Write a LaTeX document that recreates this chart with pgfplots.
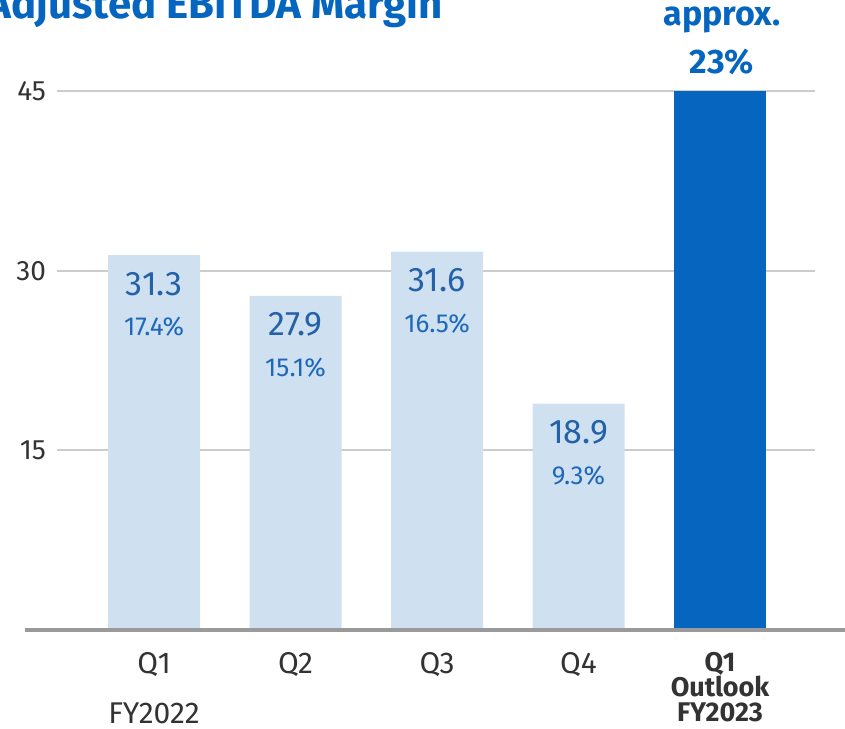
\documentclass[border=0pt]{standalone}
\usepackage{pgfplots}
\pgfplotsset{compat=1.18}
\usepackage{fontspec}
\setmainfont{Fira Sans}
\definecolor{lightbar}{HTML}{CFE0F1}
\definecolor{darkbar}{HTML}{0565BF}
\definecolor{txt}{HTML}{333333}
\definecolor{valblue}{HTML}{2461A6}
\definecolor{pctblue}{HTML}{1E68BC}
\definecolor{titleblue}{HTML}{0565BF}
\definecolor{gridgray}{HTML}{CCCCCC}
\definecolor{basegray}{HTML}{9A9A9A}
\begin{document}
\begin{tikzpicture}
\useasboundingbox (0,0) rectangle (422.5pt,364pt);
\node[anchor=base east, font=\fontsize{21}{24}\selectfont\bfseries, text=titleblue, inner sep=0pt] at (221.5pt,354.5pt) {Adjusted EBITDA Margin};
\begin{axis}[
  at={(28.5pt,49pt)}, anchor=south west,
  scale only axis, width=379pt, height=269.5pt,
  xmin=-0.686, xmax=4.671, ymin=0, ymax=45,
  axis line style={draw=none},
  major tick length=0pt,
  ytick={15,30,45},
  ymajorgrids, grid style={draw=gridgray, line width=1pt},
  yticklabel style={font=\fontsize{14}{16}\selectfont, text=txt, xshift=-2pt},
  /pgf/number format/assume math mode=true,
  xtick={0,1,2,3,4},
  xticklabels={{Q1\\\mbox{}\\FY2022},{Q2},{Q3},{Q4},{\fontsize{13.5}{12.5}\selectfont\bfseries Q1\\\fontsize{13.5}{12.5}\selectfont\bfseries Outlook\\\fontsize{13.5}{12.5}\selectfont\bfseries FY2023}},
  xticklabel style={font=\fontsize{15}{12.5}\selectfont, text=txt, align=center, yshift=-7.5pt},
  ybar, bar width=46pt,
  clip=false,
]
\addplot[fill=lightbar, draw=none, bar shift=0pt] coordinates {(0,31.3) (1,27.9) (2,31.6) (3,18.9)};
\addplot[fill=darkbar, draw=none, bar shift=0pt] coordinates {(4,45)};
\foreach \x/\v/\p in {0/31.3/17.4, 1/27.9/15.1, 2/31.6/16.5, 3/18.9/9.3}{
  \edef\tmp{\noexpand\node[font=\noexpand\fontsize{17}{20}\noexpand\selectfont, text=valblue, yshift=-14.5pt] at (axis cs:\x,\v) {\v};
  \noexpand\node[font=\noexpand\fontsize{13}{15}\noexpand\selectfont, text=pctblue, yshift=-36pt] at (axis cs:\x,\v) {\p\noexpand\%};}
  \tmp
}
\end{axis}
\draw[line width=2pt, basegray] (12.5pt,49pt) -- (422.5pt,49pt);
\node[font=\fontsize{17}{22}\selectfont\bfseries, text=titleblue] at (361pt,354pt) {approx.};
\node[font=\fontsize{17}{22}\selectfont\bfseries, text=titleblue] at (361pt,333pt) {23\%};
\end{tikzpicture}
\end{document}
